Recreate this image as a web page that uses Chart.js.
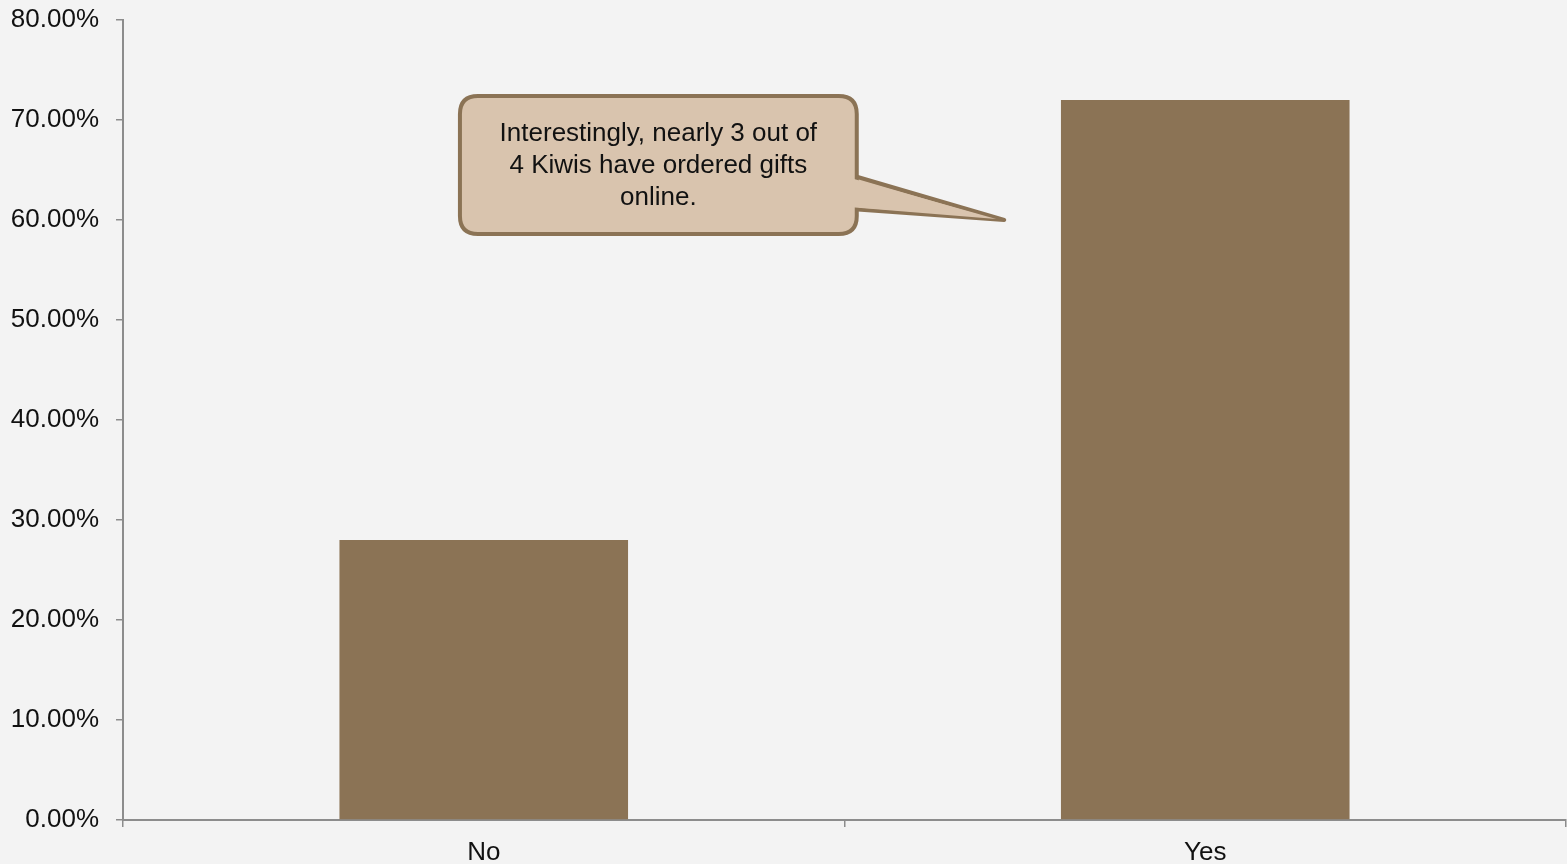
<!DOCTYPE html>
<html>
<head>
<meta charset="utf-8">
<title>Ordered gifts online</title>
<script src="https://cdn.jsdelivr.net/npm/chart.js@4.4.1/dist/chart.umd.min.js"></script>
<style>
    html, body {
        margin: 0;
        padding: 0;
        background: #f3f3f3;
    }
    #wrap {
        width: 1567px;
        height: 864px;
    }
</style>
</head>
<body>
<div id="wrap"><canvas id="giftsChart"></canvas></div>
<script>
const categories = ['No', 'Yes'];
const shares = [28.0, 72.0];
const yTicks = [0, 10, 20, 30, 40, 50, 60, 70, 80];

const noteLines = ['Interestingly, nearly 3 out of', '4 Kiwis have ordered gifts', 'online.'];
// box corners and pointer tip in axis units (category index, percent)
const noteBox = { x0: -0.033, x1: 0.517, y0: 58.6, y1: 72.4 };
const notePointer = { x: 0.7214, y: 60.0, baseTop: 64.5, baseBottom: 61.1 };

const brown = '#8b7355';
const axisGrey = '#8c8c8c';

function roundRect(ctx, x, y, w, h, r) {
    ctx.beginPath();
    ctx.moveTo(x + r, y);
    ctx.lineTo(x + w - r, y);
    ctx.quadraticCurveTo(x + w, y, x + w, y + r);
    ctx.lineTo(x + w, y + h - r);
    ctx.quadraticCurveTo(x + w, y + h, x + w - r, y + h);
    ctx.lineTo(x + r, y + h);
    ctx.quadraticCurveTo(x, y + h, x, y + h - r);
    ctx.lineTo(x, y + r);
    ctx.quadraticCurveTo(x, y, x + r, y);
    ctx.closePath();
}

const calloutPlugin = {
    id: 'callout',
    afterDatasetsDraw(chart) {
        const ctx = chart.ctx;
        const xs = chart.scales.x;
        const ys = chart.scales.y;
        const left = xs.getPixelForValue(noteBox.x0);
        const right = xs.getPixelForValue(noteBox.x1);
        const top = ys.getPixelForValue(noteBox.y1);
        const bottom = ys.getPixelForValue(noteBox.y0);
        const tipX = xs.getPixelForValue(notePointer.x);
        const tipY = ys.getPixelForValue(notePointer.y);
        const bTop = ys.getPixelForValue(notePointer.baseTop);
        const bBot = ys.getPixelForValue(notePointer.baseBottom);

        ctx.save();
        ctx.lineWidth = 4;
        ctx.strokeStyle = brown;
        ctx.fillStyle = '#d9c4ae';
        ctx.lineJoin = 'round';

        // pointer first, then the box on top hides its base
        ctx.beginPath();
        ctx.moveTo(right - 6, bTop);
        ctx.lineTo(tipX, tipY);
        ctx.lineTo(right - 6, bBot);
        ctx.closePath();
        ctx.fill();
        ctx.stroke();

        roundRect(ctx, left, top, right - left, bottom - top, 18);
        ctx.fill();
        ctx.stroke();

        // refill the join so the pointer reads as part of the box
        ctx.beginPath();
        ctx.moveTo(right - 8, bTop + 2.5);
        ctx.lineTo(tipX - 8, tipY - 1);
        ctx.lineTo(right - 8, bBot - 2);
        ctx.closePath();
        ctx.fill();

        ctx.fillStyle = '#111';
        ctx.font = '26px "Liberation Sans", Arial, sans-serif';
        ctx.textAlign = 'center';
        ctx.textBaseline = 'middle';
        const cx = (left + right) / 2;
        const cy = (top + bottom) / 2 + 1;
        noteLines.forEach((line, i) => {
            ctx.fillText(line, cx, cy + (i - 1) * 32);
        });
        ctx.restore();
    }
};

Chart.defaults.font.family = '"Liberation Sans", Arial, sans-serif';
Chart.defaults.font.size = 26;
Chart.defaults.color = '#111';

new Chart(document.getElementById('giftsChart'), {
    type: 'bar',
    data: {
        labels: categories,
        datasets: [{
            label: 'Ordered gifts online',
            data: shares,
            backgroundColor: brown,
            borderWidth: 0,
            barPercentage: 0.4,
            categoryPercentage: 1.0
        }]
    },
    options: {
        responsive: true,
        maintainAspectRatio: false,
        animation: false,
        layout: {
            padding: { top: 20, right: 1, left: 0, bottom: 0 }
        },
        plugins: {
            legend: { display: false },
            tooltip: { enabled: false }
        },
        scales: {
            x: {
                offset: true,
                grid: {
                    offset: true,
                    drawOnChartArea: false,
                    tickLength: 7,
                    color: axisGrey,
                    lineWidth: 1.5
                },
                border: { color: axisGrey, width: 2 },
                ticks: { padding: 10, color: '#111' },
                afterFit(scale) { scale.height = 44; }
            },
            y: {
                min: 0,
                max: 80,
                afterBuildTicks(scale) {
                    scale.ticks = yTicks.map(v => ({ value: v }));
                },
                grid: {
                    drawOnChartArea: false,
                    tickLength: 7,
                    color: axisGrey,
                    lineWidth: 1.5
                },
                border: { color: axisGrey, width: 2 },
                ticks: {
                    padding: 17,
                    color: '#111',
                    callback: function(value) {
                        return value.toFixed(2) + '%';
                    }
                },
                afterFit(scale) {
                    scale.width = 123;
                    // let the outer layout padding alone decide the top edge
                    scale.paddingTop = 0;
                    scale.paddingBottom = 0;
                }
            }
        }
    },
    plugins: [calloutPlugin]
});
</script>
</body>
</html>
